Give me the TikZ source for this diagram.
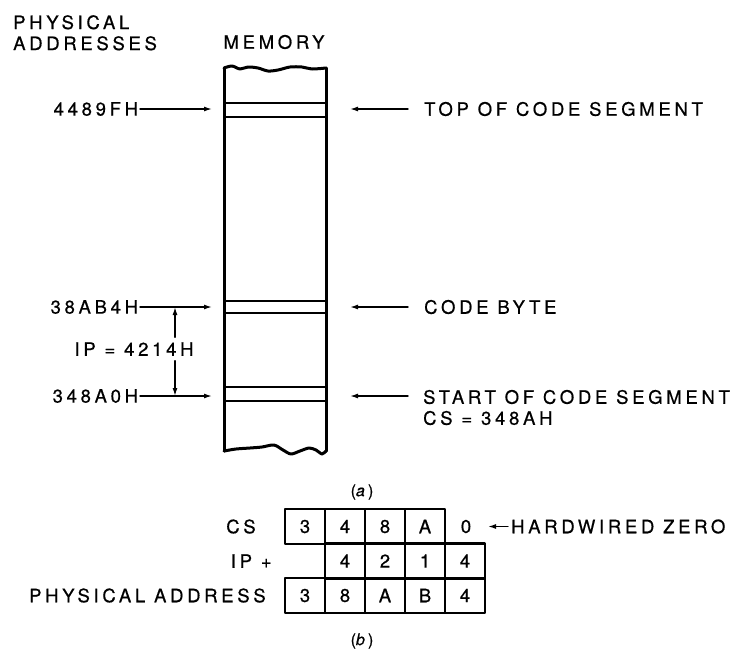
\documentclass[tikz,border=0pt]{standalone}
\usepackage{fontspec}
\setmainfont{TeX Gyre Heros}[LetterSpace=20,FakeBold=0.6]
\usetikzlibrary{arrows.meta,positioning}
\tikzset{
  every picture/.style={line join=round, line cap=round, >={Latex[length=8pt,width=5pt]}},
  lbl/.style={inner sep=0pt, font=\fontsize{18.5}{21}\selectfont},
  memside/.style={line width=3pt},
  band/.style={line width=2pt},
  ptr/.style={line width=1.4pt, ->},
  cell/.style={draw, line width=2.2pt, minimum width=40pt, minimum height=35pt, inner sep=0pt, lbl},
  figcap/.style={inner sep=0pt, font=\fontsize{16}{18}\selectfont},
}

\begin{document}
\begin{tikzpicture}[x=1pt,y=-1pt]
\useasboundingbox (0,0) rectangle (741,662);
% headings
\node[lbl, anchor=north west, align=left] (physlbl) at (13,15) {PHYSICAL\\ADDRESSES};
\node[lbl] (memlbl) at (274,42) {MEMORY};
% memory column
\draw[memside] plot[smooth] coordinates {(224,68) (232,66) (240,69) (248,67) (258,68) (268,71) (278,70) (290,67) (302,67) (312,69) (326,68)};
\draw[memside] plot[smooth] coordinates {(224,451) (236,449) (250,448) (262,447) (274,445) (283,450) (291,454) (300,451) (309,448) (316,450) (322,454) (326,451)};
\draw[memside] (224,68) -- (224,451);
\draw[memside] (326,68) -- (326,451);
\foreach \yy in {103,117,301,313,387,401}
  \draw[band] (224,\yy) -- (326,\yy);
% edge points of the column
\coordinate (mTopL) at (212,109);
\coordinate (mByteL) at (212,307);
\coordinate (mStartL) at (212,396);
\coordinate (mTopR) at (350,109);
\coordinate (mByteR) at (350,307);
\coordinate (mStartR) at (350,396);
% addresses
\node[lbl, anchor=east, outer sep=2pt] (a4489) at (140,109) {4489FH};
\node[lbl, anchor=east, outer sep=2pt] (a38ab4) at (140,307) {38AB4H};
\node[lbl, anchor=east, outer sep=2pt] (a348a0) at (140,396) {348A0H};
\draw[ptr] (a4489.east) -- (mTopL);
\draw[ptr] (a38ab4.east) -- (mByteL);
\draw[ptr] (a348a0.east) -- (mStartL);
% offset
\node[lbl, outer ysep=5pt] (iplbl) at (134,349) {IP = 4214H};
\coordinate (ipTop) at (175,307);
\coordinate (ipBot) at (175,396);
\draw[ptr] (iplbl.north -| ipTop) -- (ipTop);
\draw[ptr] (iplbl.south -| ipBot) -- (ipBot);
% notes
\node[lbl, anchor=west] (ltop) at (424,109) {TOP OF CODE SEGMENT};
\node[lbl, anchor=west] (lbyte) at (424,307) {CODE BYTE};
\node[lbl, anchor=west] (lstart) at (423,397) {START OF CODE SEGMENT};
\node[lbl, anchor=west] (lcs) at (423,418) {CS = 348AH};
\draw[ptr, shorten <=16pt] (ltop.west) -- (mTopR);
\draw[ptr, shorten <=16pt] (lbyte.west) -- (mByteR);
\draw[ptr, shorten <=15pt] (lstart.west |- mStartR) -- (mStartR);
\node[figcap] (capa) at (362,492) {(\textit{a})};
% address sum
\foreach \d [count=\i] in {3,4,8,A}
  \node[cell] (cs\i) at (265+40*\i,526.5) {\d};
\node[lbl] (cs5) at (466,526.5) {0};
\foreach \d [count=\i from 2] in {4,2,1,4}
  \node[cell] (ipc\i) at (265+40*\i,561) {\d};
\foreach \d [count=\i] in {3,8,A,B,4}
  \node[cell] (pa\i) at (265+40*\i,595.5) {\d};
\node[lbl, left=28pt of cs1] (cslbl) {CS};
\node[lbl, left=52pt of ipc2] (iplus) {IP +};
\node[lbl, left=18pt of pa1] (palbl) {PHYSICAL ADDRESS};
\node[lbl, anchor=west] (hwz) at (511,526.5) {HARDWIRED ZERO};
\coordinate (hwzTip) at (488,526.5);
\draw[ptr, shorten <=3pt] (hwz.west) -- (hwzTip);
\node[figcap] (capb) at (362,641) {(\textit{b})};
\end{tikzpicture}
\end{document}
